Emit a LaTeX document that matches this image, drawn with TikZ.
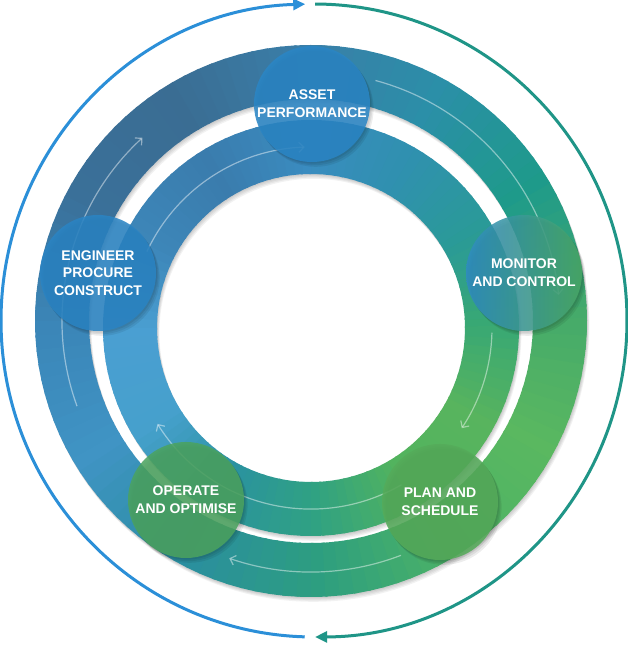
\documentclass[tikz,border=0pt]{standalone}
\usepackage{fontspec}
\setmainfont{Liberation Sans}
\usetikzlibrary{arrows.meta}
% outer ring stops (math angle 0,30,...,330)
\definecolor{o0}{HTML}{45AA6A}
\definecolor{o1}{HTML}{1E9A8A}
\definecolor{o2}{HTML}{2B8FA8}
\definecolor{o3}{HTML}{3A7EA8}
\definecolor{o4}{HTML}{3A6D93}
\definecolor{o5}{HTML}{3A7099}
\definecolor{o6}{HTML}{3B86B8}
\definecolor{o7}{HTML}{4094C4}
\definecolor{o8}{HTML}{2A8EA0}
\definecolor{o9}{HTML}{2D9E80}
\definecolor{o10}{HTML}{4CB266}
\definecolor{o11}{HTML}{5AB860}
% inner ring stops
\definecolor{i0}{HTML}{38A874}
\definecolor{i1}{HTML}{2A9A98}
\definecolor{i2}{HTML}{3090B0}
\definecolor{i3}{HTML}{3A8CC0}
\definecolor{i4}{HTML}{3A7CAD}
\definecolor{i5}{HTML}{3D86B8}
\definecolor{i6}{HTML}{4A9FD2}
\definecolor{i7}{HTML}{46A0CC}
\definecolor{i8}{HTML}{2A92A0}
\definecolor{i9}{HTML}{30A282}
\definecolor{i10}{HTML}{52B35E}
\definecolor{i11}{HTML}{58B45E}
\definecolor{arcblue}{HTML}{2B8FD8}
\definecolor{arcteal}{HTML}{1F9587}
\definecolor{assetc}{HTML}{2A86C6}
\definecolor{epcc}{HTML}{2A84C4}
\definecolor{monl}{HTML}{2F8BC2}
\definecolor{monr}{HTML}{49A866}
\definecolor{operc}{HTML}{4BA35F}
\definecolor{planc}{HTML}{55AB5A}
\newcommand{\conicring}[5]{%
 \begin{scope}[shift={(#1,#2)}]
 \foreach \kk in {0,...,11}{
   \pgfmathtruncatemacro\kn{mod(\kk+1,12)}
   \foreach \j in {0,...,9}{
     \pgfmathsetmacro\aa{\kk*30+\j*3}
     \pgfmathsetmacro\ab{\aa+3.6}
     \pgfmathtruncatemacro\pp{\j*10}
     \colorlet{segc}{#5\kn!\pp!#5\kk}
     \fill[segc] (\aa:#3) arc[start angle=\aa,end angle=\ab,radius=#3] -- (\ab:#4) arc[start angle=\ab,end angle=\aa,radius=#4] -- cycle;
   }
 }
 \end{scope}}
\tikzset{
  bub/.style={circle, minimum size=116pt, inner sep=0pt, text=white,
    font=\fontsize{14}{17.7}\selectfont\bfseries, align=center,
    fill opacity=0.86, text opacity=1},
  bubshadow/.style={fill=black, opacity=0.07},
  thinarr/.style={draw=white, draw opacity=0.45, line width=1.2pt,
    -{Straight Barb[length=5pt,width=10pt]}},
  bigarc/.style={line width=3pt, -{Triangle[length=12pt,width=11pt]}}
}
\begin{document}
\begin{tikzpicture}[x=1pt,y=1pt]
\useasboundingbox (0,0) rectangle (628,646);
\fill[white] (0,0) rectangle (628,646);

% big outer arcs
\draw[bigarc, arcblue] (314,325.5) ++(268.3:313 and 316.5)
  arc[start angle=268.3, end angle=91.6, x radius=313, y radius=316.5];
\draw[bigarc, arcteal] (314,325.5) ++(89.8:313 and 316.5)
  arc[start angle=89.8, end angle=-89.8, x radius=313, y radius=316.5];

% ring shadows
\foreach \s in {1,2,3,4}{
  \fill[black, opacity=0.05, even odd rule] (311+0.6*\s,325-1.2*\s) circle (276) circle (222);
  \fill[black, opacity=0.05, even odd rule] (311+0.6*\s,318-1.2*\s) circle (208) circle (154);
}
% rings
\conicring{311}{325}{276}{222}{o}
\conicring{311}{318}{208}{154}{i}

% thin flow arrows, outer ring
\draw[thinarr] (311,325) ++(200:249) arc[start angle=200, end angle=132.6, radius=249];
\draw[thinarr] (311,325) ++(75:249) arc[start angle=75, end angle=6, radius=249];
\draw[thinarr] (311,325) ++(291:251) arc[start angle=291, end angle=251, radius=251];
% thin flow arrows, inner ring
\draw[thinarr] (311,318) ++(155:181) arc[start angle=155, end angle=92, radius=181];
\draw[thinarr] (311,318) ++(-1.5:181) arc[start angle=-1.5, end angle=-33.6, radius=181];
\draw[thinarr] (311,318) ++(300:181) arc[start angle=300, end angle=212, radius=181];

% circle shadows
\foreach \p in {(312,542),(98,373),(524,373),(186,146),(440,144)}{
  \foreach \s in {1,2,3}{
    \fill[bubshadow] \p ++(1.2*\s,-1.6*\s) circle (58);
  }
}
% circles
\node[bub, fill=assetc] (asset) at (312,542) {ASSET\\PERFORMANCE};
\node[bub, fill=epcc] (epc) at (98,373) {ENGINEER\\PROCURE\\CONSTRUCT};
\node[bub, left color=monl, right color=monr] (monitor) at (524,373) {MONITOR\\AND CONTROL};
\node[bub, fill=operc] (operate) at (186,146) {OPERATE\\AND OPTIMISE};
\node[bub, fill=planc] (plan) at (440,144) {PLAN AND\\SCHEDULE};
\end{tikzpicture}
\end{document}
